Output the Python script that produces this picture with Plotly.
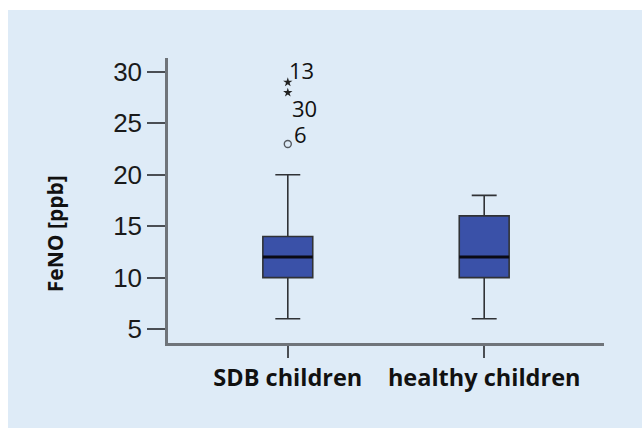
import plotly.graph_objects as go

# Summary statistics of FeNO (ppb) per group
groups = ["SDB children", "healthy children"]
positions = [0, 1]
q1 = [10, 10]
median = [12, 12]
q3 = [14, 16]
lower_whisker = [6, 6]
upper_whisker = [20, 18]

# Outlying SDB cases (value, case number)
mild_values = [23]
mild_ids = ["6"]
extreme_values = [28, 29]
extreme_ids = ["30", "13"]

y_ticks = [5, 10, 15, 20, 25, 30]

BOX_WIDTH = 0.254
BOX_FILL = "#3a51a8"
AXIS_GREY = "#6f747a"
PANEL_BG = "#deebf7"
TEXT = "#111111"

fig = go.Figure()

fig.add_trace(go.Box(
    x=positions,
    q1=q1,
    median=median,
    q3=q3,
    lowerfence=lower_whisker,
    upperfence=upper_whisker,
    width=BOX_WIDTH,
    whiskerwidth=0.5,
    fillcolor=BOX_FILL,
    line=dict(color="#303236", width=1.6),
    boxpoints=False,
    hoverinfo="skip",
    showlegend=False,
))

# Heavier black median bars
for p, m in zip(positions, median):
    fig.add_trace(go.Scatter(
        x=[p - BOX_WIDTH / 2, p + BOX_WIDTH / 2],
        y=[m, m],
        mode="lines",
        line=dict(color="#0a0a14", width=3),
        hoverinfo="skip",
        showlegend=False,
    ))

fig.add_trace(go.Scatter(
    x=[positions[0]] * len(mild_values),
    y=mild_values,
    mode="markers",
    marker=dict(symbol="circle-open", size=7, color="#555a60", line=dict(width=1.4)),
    hoverinfo="skip",
    showlegend=False,
))

fig.add_trace(go.Scatter(
    x=[positions[0]] * len(extreme_values),
    y=extreme_values,
    mode="markers",
    marker=dict(symbol="star", size=7, color="#222222"),
    hoverinfo="skip",
    showlegend=False,
))

# Case-number labels next to the outlying points: (value, label, x shift, y shift)
case_labels = [
    (mild_values[0], mild_ids[0], 4, 10),
    (extreme_values[0], extreme_ids[0], 2, -15),
    (extreme_values[1], extreme_ids[1], -1, 12),
]
for val, lab, dx, dy in case_labels:
    fig.add_annotation(
        x=positions[0], y=val, text=lab, showarrow=False,
        xanchor="left", yanchor="middle", xshift=dx, yshift=dy,
        font=dict(family="Open Sans", size=22, color=TEXT),
    )

# Light blue panel behind the chart
fig.add_shape(
    type="rect", xref="paper", yref="paper",
    x0=-0.367, x1=1.10, y0=-0.298, y1=1.168,
    fillcolor=PANEL_BG, line=dict(width=0), layer="below",
)

fig.add_annotation(
    text="<b>FeNO [ppb]</b>",
    xref="paper", yref="paper",
    x=-0.259, y=0.382, xanchor="center", yanchor="middle",
    textangle=-90, showarrow=False,
    font=dict(family="Open Sans", size=21, color=TEXT),
)

fig.update_layout(
    width=642, height=430,
    margin=dict(l=168, r=38, t=58, b=87),
    paper_bgcolor="white",
    plot_bgcolor="rgba(0,0,0,0)",
    showlegend=False,
)

fig.update_xaxes(
    range=[-0.61, 1.61],
    tickvals=positions,
    ticktext=["<b>%s</b>" % g for g in groups],
    tickfont=dict(family="Open Sans", size=23.5, color=TEXT),
    showline=True, linecolor=AXIS_GREY, linewidth=2.5,
    ticks="outside", ticklen=12, tickwidth=2, tickcolor="#4a4e54",
    showgrid=False, zeroline=False,
)

fig.update_yaxes(
    range=[3.64, 31.36],
    tickvals=y_ticks,
    tickfont=dict(family="Liberation Sans", size=26, color="#1a1a1a"),
    showline=True, linecolor=AXIS_GREY, linewidth=2.5,
    ticks="outside", ticklen=18, tickwidth=2, tickcolor="#4a4e54",
    showgrid=False, zeroline=False,
)

fig.write_html("out.html")
